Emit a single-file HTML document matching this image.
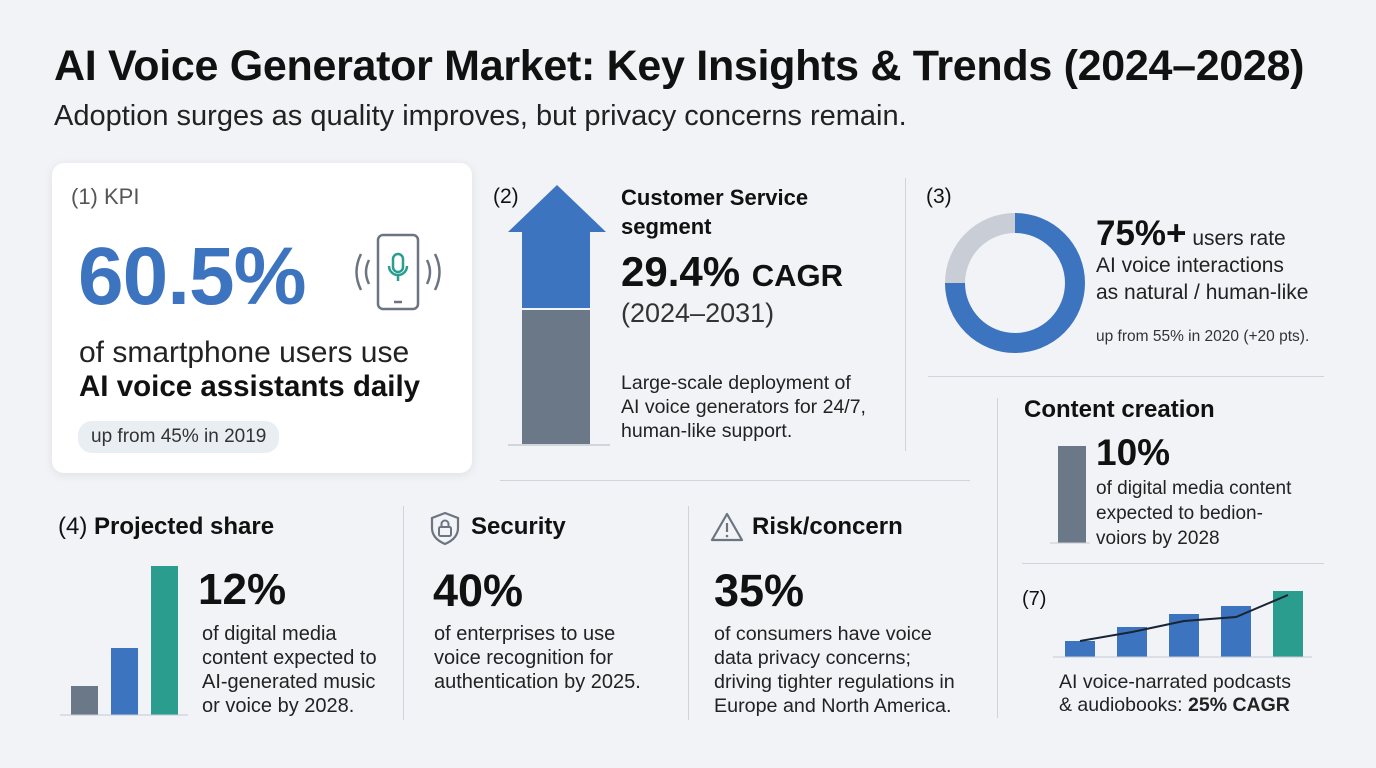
<!DOCTYPE html>
<html><head><meta charset="utf-8"><style>
body{margin:0;width:1376px;height:768px;overflow:hidden;background:#f1f3f7;font-family:"Liberation Sans",sans-serif;color:#111;position:relative}
.a{position:absolute;white-space:nowrap}
.b{font-weight:bold}
.vl{position:absolute;width:1px;background:#cfd4dc}
.hl{position:absolute;height:1px;background:#cfd4dc}
</style></head><body>
<div class="a b" style="left:54px;top:42px;font-size:43px;letter-spacing:-0.3px">AI Voice Generator Market: Key Insights &amp; Trends (2024–2028)</div>
<div class="a" style="left:54px;top:100px;font-size:29px;color:#222">Adoption surges as quality improves, but privacy concerns remain.</div>

<div style="position:absolute;left:52px;top:163px;width:420px;height:310px;background:#fff;border-radius:12px;box-shadow:0 2px 10px rgba(0,0,0,0.08)"></div>
<div class="a" style="left:71px;top:184px;font-size:22px;color:#555">(1) KPI</div>
<div class="a b" style="left:78px;top:230px;font-size:82px;color:#3d74c0;letter-spacing:-1px">60.5%</div>
<svg class="a" style="left:345px;top:232px" width="105" height="80" viewBox="0 0 105 80">
<rect x="33" y="3" width="40" height="74" rx="5" fill="none" stroke="#6b7480" stroke-width="2.5"/>
<line x1="49" y1="70" x2="57" y2="70" stroke="#6b7480" stroke-width="2.5"/>
<rect x="48" y="22" width="10" height="18" rx="5" fill="none" stroke="#2a9d8f" stroke-width="2.5"/>
<path d="M44 34 a9 9 0 0 0 18 0 M53 43 v6" fill="none" stroke="#2a9d8f" stroke-width="2.5"/>
<path d="M24 28 q-6 12 0 24 M16 22 q-9 18 0 36 M82 28 q6 12 0 24 M90 22 q9 18 0 36" fill="none" stroke="#6b7480" stroke-width="2.5"/>
</svg>
<div class="a" style="left:79px;top:336px;font-size:30px;color:#222">of smartphone users use</div>
<div class="a b" style="left:79px;top:370px;font-size:29.5px">AI voice assistants daily</div>
<div class="a" style="left:78px;top:421px;padding:5px 13px;background:#e9eef3;border-radius:14px;font-size:19px;color:#333">up from 45% in 2019</div>

<div class="a" style="left:493px;top:185px;font-size:21px">(2)</div>
<svg class="a" style="left:500px;top:180px" width="115" height="270">
<polygon points="57,5 106,52 90,52 90,128 22,128 22,52 8,52" fill="#3d74c0"/>
<rect x="22" y="130" width="68" height="134" fill="#6b7888"/>
<line x1="8" y1="265" x2="110" y2="265" stroke="#c5cbd3" stroke-width="1.5"/>
</svg>
<div class="a b" style="left:621px;top:183px;font-size:22px;line-height:29px">Customer Service<br>segment</div>
<div class="a b" style="left:621px;top:248px;font-size:42px">29.4% <span style="font-size:31px">CAGR</span></div>
<div class="a" style="left:621px;top:298px;font-size:27px;color:#333">(2024–2031)</div>
<div class="a" style="left:621px;top:371px;font-size:19.5px;line-height:24px;color:#222">Large-scale deployment of<br>AI voice generators for 24/7,<br>human-like support.</div>
<div class="vl" style="left:905px;top:178px;height:273px"></div>
<div class="hl" style="left:500px;top:480px;width:470px"></div>

<div class="a" style="left:926px;top:185px;font-size:21px">(3)</div>
<svg class="a" style="left:940px;top:210px" width="150" height="150" id="donut"></svg>
<div class="a" style="left:1096px;top:220px;font-size:21px;line-height:27px;color:#222"><b style="font-size:35px;color:#111">75%+</b> users rate<br>AI voice interactions<br>as natural / human-like</div>
<div class="a" style="left:1096px;top:328px;font-size:15.5px;color:#333">up from 55% in 2020 (+20 pts).</div>
<div class="hl" style="left:928px;top:376px;width:396px"></div>

<div class="vl" style="left:997px;top:398px;height:320px"></div>
<div class="a b" style="left:1024px;top:396px;font-size:24px">Content creation</div>
<svg class="a" style="left:1048px;top:440px" width="50" height="106">
<rect x="10" y="6" width="28" height="97" fill="#6b7888"/><line x1="2" y1="103" x2="42" y2="103" stroke="#c5cbd3"/></svg>
<div class="a b" style="left:1096px;top:432px;font-size:37px">10%</div>
<div class="a" style="left:1096px;top:476px;font-size:19px;line-height:25px;color:#222">of digital media content<br>expected to bedion-<br>voiors by 2028</div>
<div class="hl" style="left:1022px;top:563px;width:302px"></div>

<div class="a" style="left:1022px;top:588px;font-size:20px">(7)</div>
<svg class="a" style="left:1050px;top:580px" width="270" height="85" id="c7"></svg>
<div class="a" style="left:1059px;top:671px;font-size:19.5px;line-height:23px;color:#222">AI voice-narrated podcasts<br>&amp; audiobooks: <b>25% CAGR</b></div>

<div class="a b" style="left:58px;top:513px;font-size:24px"><span style="font-weight:normal">(4)</span> Projected share</div>
<svg class="a" style="left:58px;top:555px" width="135" height="165" id="c4"></svg>
<div class="a b" style="left:198px;top:565px;font-size:44px">12%</div>
<div class="a" style="left:202px;top:622px;font-size:20px;line-height:24px;color:#222">of digital media<br>content expected to<br>AI-generated music<br>or voice by 2028.</div>
<div class="vl" style="left:403px;top:506px;height:214px"></div>

<svg class="a" style="left:428px;top:510px" width="34" height="36"><path d="M17 3 L30 8 V18 C30 26 24 31 17 34 C10 31 4 26 4 18 V8 Z" fill="none" stroke="#6b7480" stroke-width="2.2"/><rect x="11" y="17" width="12" height="9" rx="1.5" fill="none" stroke="#6b7480" stroke-width="2"/><path d="M13.5 17 v-3 a3.5 3.5 0 0 1 7 0 v3" fill="none" stroke="#6b7480" stroke-width="2"/></svg>
<div class="a b" style="left:471px;top:513px;font-size:24px">Security</div>
<div class="a b" style="left:433px;top:565px;font-size:45px">40%</div>
<div class="a" style="left:434px;top:622px;font-size:20px;line-height:24px;color:#222">of enterprises to use<br>voice recognition for<br>authentication by 2025.</div>
<div class="vl" style="left:688px;top:506px;height:214px"></div>

<svg class="a" style="left:709px;top:511px" width="36" height="32"><path d="M18 3 L33 29 H3 Z" fill="none" stroke="#6b7480" stroke-width="2.2" stroke-linejoin="round"/><line x1="18" y1="12" x2="18" y2="21" stroke="#6b7480" stroke-width="2.2"/><circle cx="18" cy="25" r="1.3" fill="#6b7480"/></svg>
<div class="a b" style="left:752px;top:513px;font-size:24px">Risk/concern</div>
<div class="a b" style="left:714px;top:565px;font-size:45px">35%</div>
<div class="a" style="left:714px;top:622px;font-size:19.7px;line-height:24px;color:#222">of consumers have voice<br>data privacy concerns;<br>driving tighter regulations in<br>Europe and North America.</div>

<script>
var donutShares=[75,25];
var donutColors=['#3d74c0','#c9ced6'];
var shareValues=[29,67,149];
var shareColors=['#6b7888','#3d74c0','#2a9d8f'];
var podcastBars=[16,30,43,51,66];
var podcastLine=[16,25,36,40,62];
var podcastColors=['#3d74c0','#3d74c0','#3d74c0','#3d74c0','#2a9d8f'];
var NS='http://www.w3.org/2000/svg';
function mk(p,t,a){var e=document.createElementNS(NS,t);for(var k in a)e.setAttribute(k,a[k]);p.appendChild(e);return e;}
(function(){var s=document.getElementById('donut');var cx=75,cy=73,r=60,sw=20,tot=donutShares.reduce(function(a,b){return a+b},0),ang=-Math.PI/2;
donutShares.forEach(function(v,i){var a2=ang+v/tot*2*Math.PI;var large=(a2-ang)>Math.PI?1:0;
var p=mk(s,'path',{d:'M'+(cx+r*Math.cos(ang))+' '+(cy+r*Math.sin(ang))+' A'+r+' '+r+' 0 '+large+' 1 '+(cx+r*Math.cos(a2))+' '+(cy+r*Math.sin(a2)),fill:'none',stroke:donutColors[i],'stroke-width':sw});


ang=a2;});})();
(function(){var s=document.getElementById('c4');var base=160,x0=13,w=27,gap=40;
shareValues.forEach(function(v,i){var r=mk(s,'rect',{x:x0+i*gap,y:base-v,width:w,height:v,fill:shareColors[i]});

});
mk(s,'line',{x1:2,y1:base,x2:130,y2:base,stroke:'#c5cbd3'});})();
(function(){var s=document.getElementById('c7');var base=77,xs=function(i){return 15+i*52},w=30;
podcastBars.forEach(function(v,i){var r=mk(s,'rect',{x:xs(i),y:base-v,width:w,height:v,fill:podcastColors[i]});

});
mk(s,'line',{x1:3,y1:base,x2:262,y2:base,stroke:'#c5cbd3'});
var pts=podcastLine.map(function(v,i){return (xs(i)+w/2)+','+(base-v)}).join(' ');
var l=mk(s,'polyline',{points:pts,fill:'none',stroke:'#1a2433','stroke-width':2});

})();
</script>
</body></html>
